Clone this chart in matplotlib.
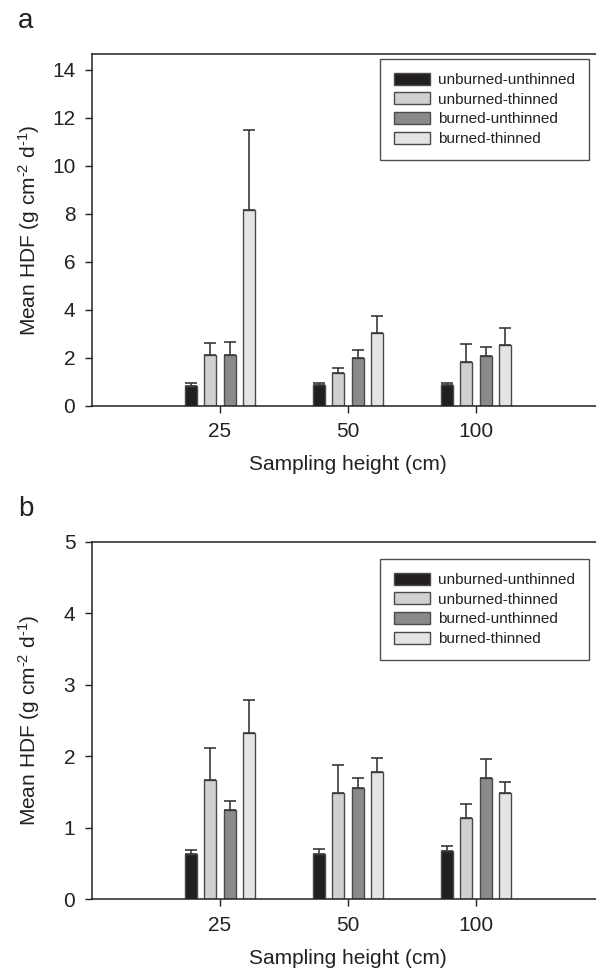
import numpy as np
import matplotlib
matplotlib.use("Agg")
import matplotlib.pyplot as plt

plt.rcParams['font.family'] = ['Liberation Sans', 'DejaVu Sans']
plt.rcParams['mathtext.fontset'] = 'custom'
plt.rcParams['mathtext.rm'] = 'Liberation Sans'
plt.rcParams['mathtext.it'] = 'Liberation Sans'

heights = ['25', '50', '100']
treatments = ['unburned-unthinned', 'unburned-thinned', 'burned-unthinned', 'burned-thinned']
colors = ['#231f20', '#d0d0d1', '#8a8a8c', '#e4e4e6']

# panel a: means and top of error bars
mean_a = [[0.83, 0.86, 0.86],
          [2.13, 1.37, 1.80],
          [2.11, 1.97, 2.09],
          [8.16, 3.04, 2.54]]
top_a = [[0.96, 0.96, 0.96],
         [2.63, 1.57, 2.55],
         [2.67, 2.31, 2.45],
         [11.5, 3.74, 3.24]]

# panel b
mean_b = [[0.63, 0.64, 0.67],
          [1.67, 1.48, 1.13],
          [1.25, 1.56, 1.70],
          [2.33, 1.78, 1.49]]
top_b = [[0.69, 0.70, 0.74],
         [2.12, 1.88, 1.33],
         [1.37, 1.70, 1.96],
         [2.79, 1.98, 1.64]]

W, H = 596, 969
fig = plt.figure(figsize=(W/100, H/100), dpi=100)

def panel(rect, means, tops, ylim, yticks, letter, legend_top):
    ax = fig.add_axes(rect)
    x = np.arange(1, len(heights)+1)
    pitch = 0.152
    bw = 0.094
    for i, t in enumerate(treatments):
        xi = x + (i-1.5)*pitch
        m = np.array(means[i])
        up = np.array(tops[i]) - m
        ax.bar(xi, m, bw, color=colors[i], edgecolor='#4a4a4a', linewidth=1.0, label=t, zorder=2)
        ax.errorbar(xi, m, yerr=[np.zeros_like(m), up], fmt='none', ecolor='#3a3a3a',
                    elinewidth=1.2, capsize=4.3, capthick=1.2, zorder=3)
    ax.set_xlim(0, 4)
    ax.set_ylim(*ylim)
    ax.set_yticks(yticks)
    ax.set_xticks(x)
    ax.set_xticklabels(heights)
    ax.tick_params(direction='out', length=5, width=1, labelsize=15, pad=7, colors='#222222')
    for s in ax.spines.values():
        s.set_linewidth(1.1)
        s.set_color('#222222')
    ax.set_xlabel('Sampling height (cm)', fontsize=15, labelpad=10, color='#222222')
    ax.set_ylabel(r'Mean HDF (g cm$^{\text{-}2}$ d$^{\text{-}1}$)', fontsize=15, color='#222222')
    ax.yaxis.set_label_coords(-0.097, 0.5)
    leg = ax.legend(loc='upper right', bbox_to_anchor=(589/W, 1-legend_top/H),
                    bbox_transform=fig.transFigure, fontsize=11, frameon=True, fancybox=False,
                    handlelength=2.35, handleheight=0.83, labelspacing=0.35, borderpad=0.9,
                    handletextpad=0.55, borderaxespad=0)
    leg.get_frame().set_edgecolor('#222222')
    leg.get_frame().set_linewidth(1.0)
    for txt in leg.get_texts():
        txt.set_color('#222222')
    fig.text(18/W, rect[1] + rect[3] + 26/H, letter, fontsize=20, color='#222222')
    return ax

left = 92/W
width = 512/W
panel([left, 1-405.7/H, width, (405.7-54)/H], mean_a, top_a, (0, 14.65),
      [0, 2, 4, 6, 8, 10, 12, 14], 'a', 59)
panel([left, 1-899.3/H, width, (899.3-541.7)/H], mean_b, top_b, (0, 5),
      [0, 1, 2, 3, 4, 5], 'b', 559)

fig.savefig('out.png', dpi=100)
